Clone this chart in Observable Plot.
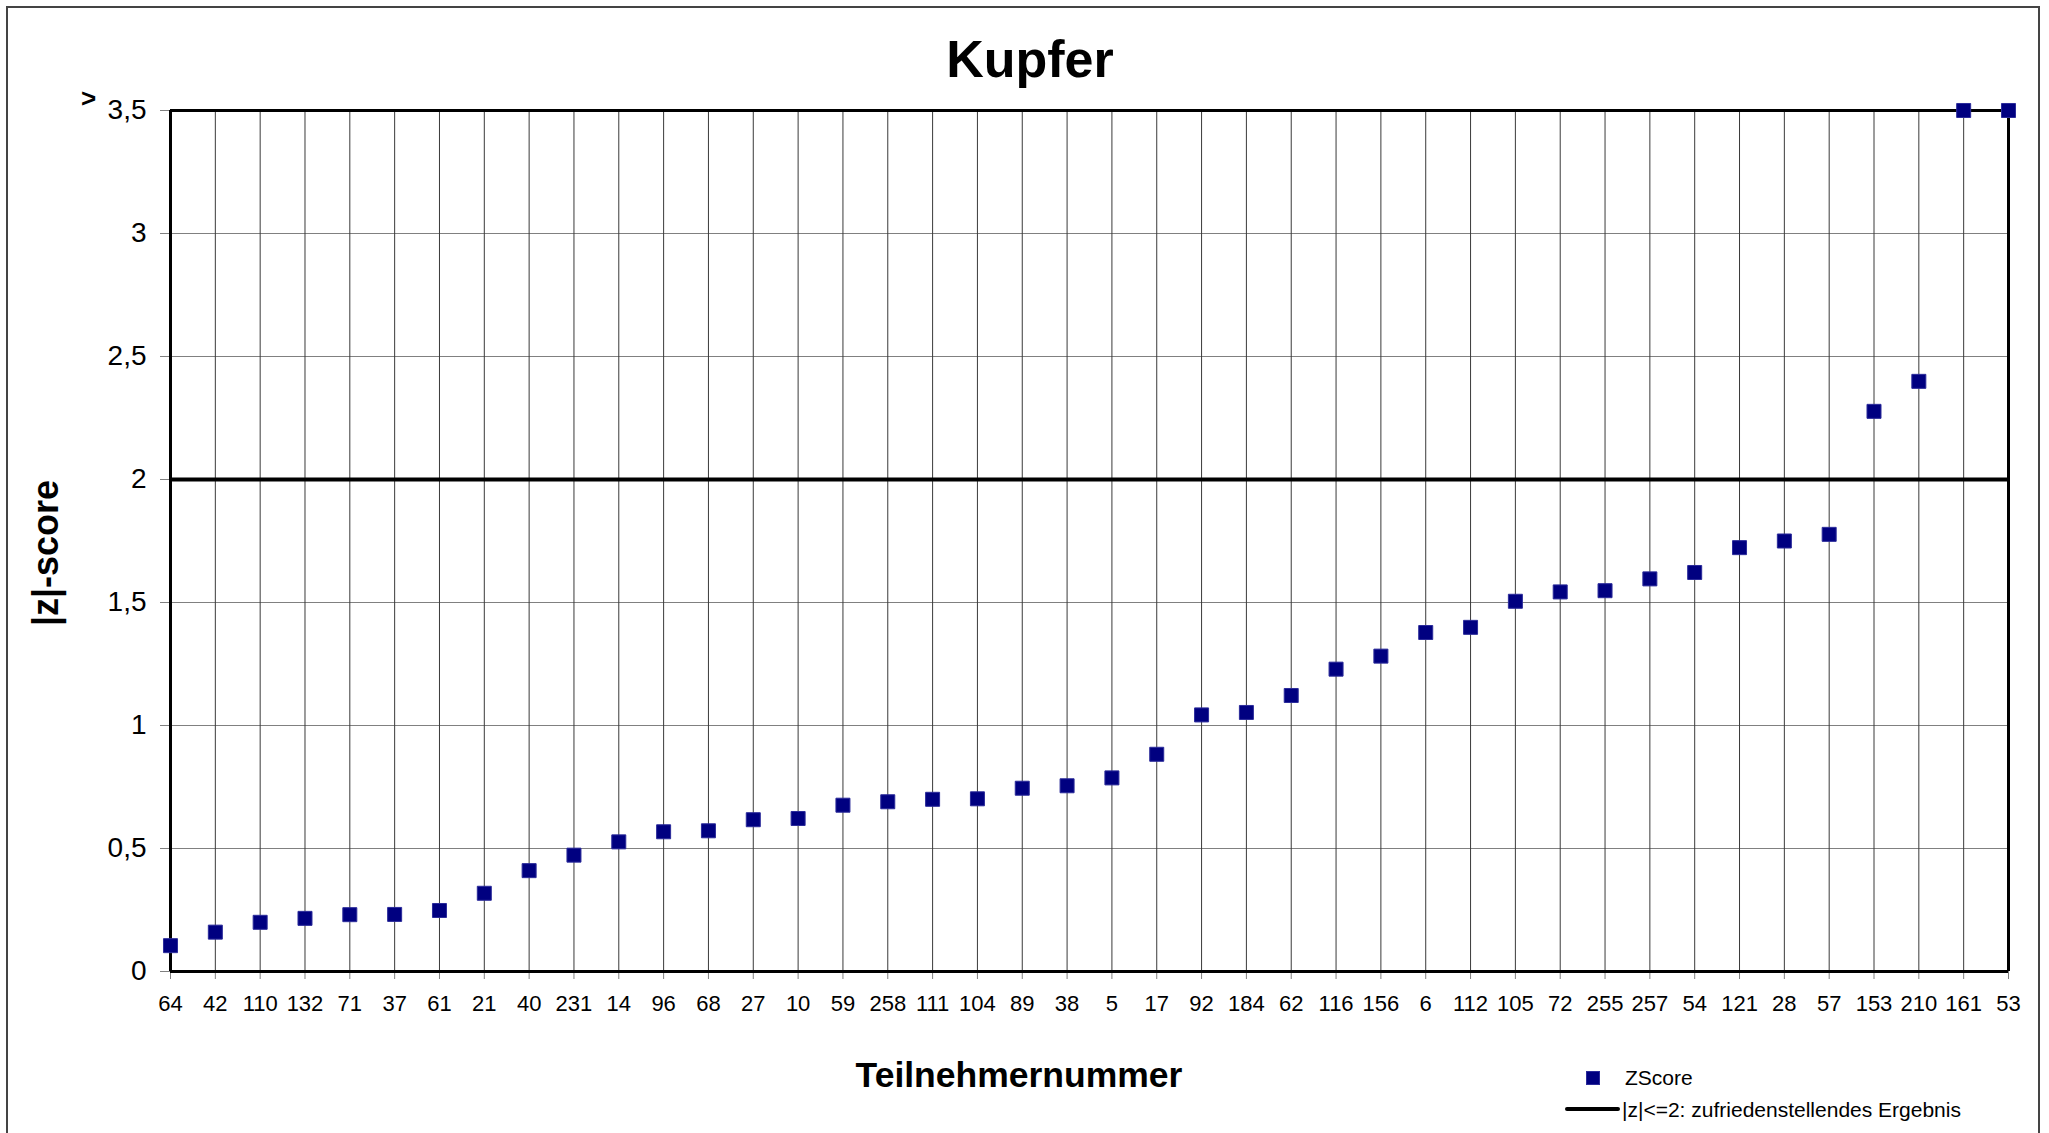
<!DOCTYPE html>
<html>
<head>
<meta charset="utf-8">
<script src="https://cdn.jsdelivr.net/npm/d3@7"></script>
<script src="https://cdn.jsdelivr.net/npm/@observablehq/plot@0.6"></script>
<style>
  html, body { margin: 0; padding: 0; background: #fff; overflow: hidden; }
  #wrap { position: relative; width: 2049px; height: 1133px; font-family: "Liberation Sans", Arial, sans-serif; color: #000; }
  #border { position: absolute; left: 6px; top: 6px; width: 2034px; height: 1140px; border: 2px solid #444; box-sizing: border-box; }
  #chart { position: absolute; left: 0; top: 0; }
  .abs { position: absolute; white-space: nowrap; line-height: 1; }
  #title { left: 1030px; top: 33px; transform: translateX(-50%); font-weight: bold; font-size: 52px; }
  #xtitle { left: 1019px; top: 1058px; transform: translateX(-50%); font-weight: bold; font-size: 35.5px; }
  #ytitle { left: 46px; top: 553px; transform: translate(-50%, -50%) rotate(-90deg); font-weight: bold; font-size: 36px; }
  #gt { left: 81px; top: 85px; font-weight: bold; font-size: 26px; }
  .leg { font-size: 21px; }
  #legsq { position: absolute; left: 1586px; top: 1071px; width: 14px; height: 14px; background: #000080; box-sizing: border-box; border: 1px solid #2b2b9a; }
  #legline { position: absolute; left: 1565px; top: 1107px; width: 55px; height: 4px; background: #000; border-radius: 2px; }
</style>
</head>
<body>
<div id="wrap">
  <div id="border"></div>
  <div id="chart"></div>
  <div id="title" class="abs">Kupfer</div>
  <div id="xtitle" class="abs">Teilnehmernummer</div>
  <div id="ytitle" class="abs">|z|-score</div>
  <div id="gt" class="abs">&gt;</div>
  <div id="legsq"></div>
  <div class="abs leg" style="left:1625px; top:1067px;">ZScore</div>
  <div id="legline"></div>
  <div class="abs leg" style="left:1622px; top:1099px;">|z|&lt;=2: zufriedenstellendes Ergebnis</div>
</div>
<script>
// Participant numbers (x categories, in plotted order)
const participants = ["64","42","110","132","71","37","61","21","40","231","14","96","68","27","10","59","258","111","104","89","38","5","17","92","184","62","116","156","6","112","105","72","255","257","54","121","28","57","153","210","161","53"];
// |z|-scores (values > 3.5 are shown at 3.5)
const zScores = [0.105,0.16,0.2,0.216,0.231,0.232,0.248,0.318,0.41,0.473,0.527,0.568,0.572,0.617,0.622,0.676,0.69,0.7,0.702,0.745,0.755,0.787,0.883,1.043,1.053,1.122,1.229,1.282,1.378,1.399,1.505,1.543,1.548,1.596,1.622,1.723,1.75,1.777,2.277,2.399,3.5,3.5];
// y-axis tick values
const yTicks = [0,0.5,1,1.5,2,2.5,3,3.5];
// threshold line
const threshold = [2];
const yMax = 3.5;

const data = participants.map((p, i) => ({p, z: zScores[i]}));

const chart = Plot.plot({
  width: 2049,
  height: 1133,
  marginLeft: 170,
  marginRight: 41,
  marginTop: 110,
  marginBottom: 162,
  style: {fontFamily: "'Liberation Sans', Arial, sans-serif", background: "transparent", color: "#000"},
  x: {type: "point", domain: participants, padding: 0, label: null},
  y: {domain: [0, yMax], label: null},
  marks: [
    Plot.gridY(yTicks, {stroke: "#808080", strokeOpacity: 1, strokeWidth: 1}),
    Plot.gridX(participants, {stroke: "#3a3a3a", strokeOpacity: 1, strokeWidth: 1}),
    Plot.axisY(yTicks, {
      tickFormat: d => String(d).replace(".", ","),
      fontSize: 28, tickSize: 10, tickPadding: 14,
      stroke: "#808080", fill: "#000", label: null
    }),
    Plot.axisX({fontSize: 22, tickSize: 8, tickPadding: 16, stroke: "#808080", fill: "#000", label: null}),
    Plot.ruleY([yMax], {stroke: "#000", strokeWidth: 3}),
    Plot.ruleY([0], {stroke: "#000", strokeWidth: 3}),
    Plot.ruleX([participants[0]], {stroke: "#000", strokeWidth: 3}),
    Plot.ruleX([participants[participants.length - 1]], {stroke: "#000", strokeWidth: 3}),
    Plot.ruleY(threshold, {stroke: "#000", strokeWidth: 4}),
    Plot.dot(data, {x: "p", y: "z", symbol: "square", r: 7.9, fill: "#000080", stroke: "#2b2b9a", strokeWidth: 1})
  ]
});
document.getElementById("chart").appendChild(chart);
</script>
</body>
</html>
